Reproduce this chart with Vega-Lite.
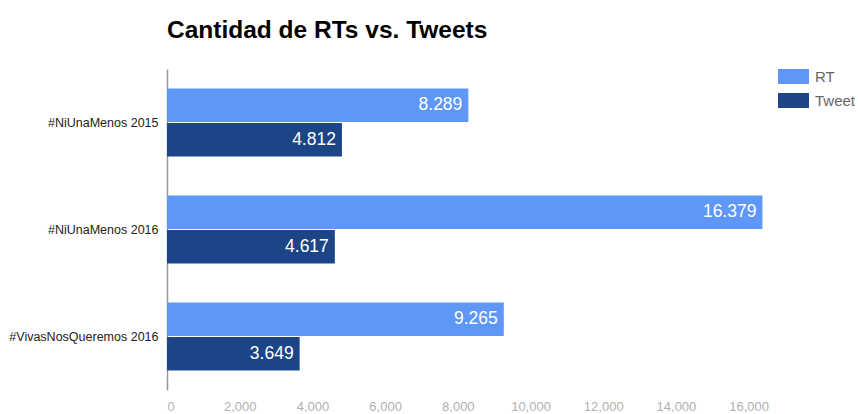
{
  "$schema": "https://vega.github.io/schema/vega-lite/v6.json",
  "autosize": {"type": "none"},
  "padding": {"left": 167, "top": 69, "right": 73, "bottom": 24},
  "width": 618,
  "height": 321,
  "background": "white",
  "title": {
    "text": "Cantidad de RTs vs. Tweets",
    "anchor": "start",
    "frame": "group",
    "font": "Liberation Sans",
    "fontSize": 24.5,
    "fontWeight": "bold",
    "color": "#000000",
    "baseline": "alphabetic",
    "offset": 33,
    "dy": 34
  },
  "data": {
    "values": [
      {"hashtag": "#NiUnaMenos 2015", "serie": "RT", "value": 8289, "label": "8.289"},
      {"hashtag": "#NiUnaMenos 2015", "serie": "Tweet", "value": 4812, "label": "4.812"},
      {"hashtag": "#NiUnaMenos 2016", "serie": "RT", "value": 16379, "label": "16.379"},
      {"hashtag": "#NiUnaMenos 2016", "serie": "Tweet", "value": 4617, "label": "4.617"},
      {"hashtag": "#VivasNosQueremos 2016", "serie": "RT", "value": 9265, "label": "9.265"},
      {"hashtag": "#VivasNosQueremos 2016", "serie": "Tweet", "value": 3649, "label": "3.649"}
    ]
  },
  "encoding": {
    "y": {
      "field": "hashtag",
      "type": "nominal",
      "sort": null,
      "scale": {"paddingInner": 0.364, "paddingOuter": 0.182},
      "axis": {
        "title": null,
        "ticks": false,
        "labelPadding": 9,
        "labelFontSize": 12.5,
        "labelColor": "#222222",
        "labelFont": "Liberation Sans",
        "domainColor": "#999999",
        "domainWidth": 1.5
      }
    },
    "yOffset": {
      "field": "serie",
      "type": "nominal",
      "sort": ["RT", "Tweet"],
      "scale": {"paddingInner": 0.03}
    },
    "x": {
      "field": "value",
      "type": "quantitative",
      "scale": {"domain": [0, 17000], "nice": false},
      "axis": {
        "title": null,
        "values": [0, 2000, 4000, 6000, 8000, 10000, 12000, 14000, 16000],
        "format": ",d",
        "domain": false,
        "ticks": false,
        "grid": false,
        "labelPadding": 10,
        "labelFontSize": 13,
        "labelColor": "#b0b0b0",
        "labelFont": "Liberation Sans"
      }
    }
  },
  "layer": [
    {
      "mark": {"type": "bar"},
      "encoding": {
        "color": {
          "field": "serie",
          "type": "nominal",
          "scale": {"domain": ["RT", "Tweet"], "range": ["#5e97f6", "#1c4587"]},
          "legend": {
            "orient": "none",
            "legendX": 611,
            "legendY": -8,
            "title": null,
            "symbolType": "M-1,-0.484H1V0.484H-1Z",
            "symbolSize": 961,
            "symbolStrokeWidth": 0,
            "symbolOpacity": 1,
            "labelFontSize": 15,
            "labelFont": "Liberation Sans",
            "labelColor": "#666666",
            "labelOffset": 6,
            "rowPadding": -5,
            "padding": 0
          }
        }
      }
    },
    {
      "mark": {
        "type": "text",
        "align": "right",
        "baseline": "middle",
        "dx": -6,
        "color": "white",
        "fontSize": 17.5,
        "font": "Liberation Sans"
      },
      "encoding": {"text": {"field": "label"}}
    }
  ],
  "config": {"view": {"stroke": null}}
}
